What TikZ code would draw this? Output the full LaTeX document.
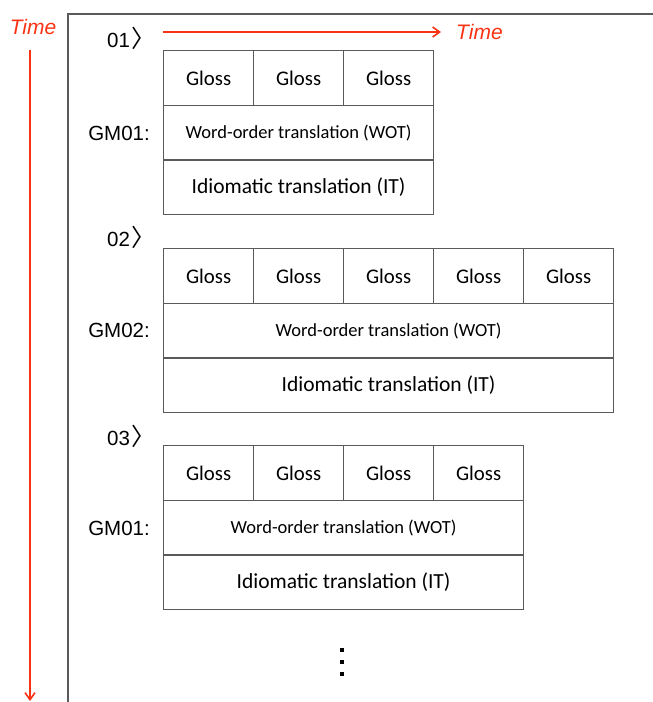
\documentclass[tikz,border=0pt]{standalone}
\usepackage{fontspec}
\setmainfont{Carlito}
\newfontfamily\helv{Liberation Sans}
\newfontfamily\cjk{Noto Sans CJK JP}
\usetikzlibrary{arrows.meta}
\definecolor{tred}{RGB}{250,50,20}
\definecolor{lgray}{RGB}{90,90,90}
\tikzset{
  cell/.style={draw=lgray,line width=1.2pt,inner sep=0pt,minimum height=55pt,anchor=north west},
  gloss/.style={cell,minimum width=90pt,font=\fontsize{20.8}{20.8}\selectfont},
  wot/.style={cell,font=\fontsize{18.5}{18.5}\selectfont},
  itr/.style={cell,font=\fontsize{21.5}{21.5}\selectfont},
  lbl/.style={font=\helv\fontsize{20.5}{20.5}\selectfont,anchor=east,inner sep=0pt},
  timelbl/.style={font=\helv\itshape\fontsize{21}{21}\selectfont,text=tred,inner sep=0pt},
  timearrow/.style={draw=tred,line width=1.6pt,-{Straight Barb[length=7pt,width=10pt,line width=1.6pt]}},
}
\newcommand{\chev}{\hspace{1pt}{\cjk\fontsize{24}{24}\selectfont 〉}\hspace{-12pt}}
\begin{document}
\begin{tikzpicture}[x=1pt,y=-1pt]
\useasboundingbox (0,0) rectangle (653,702);
% frame
\draw[lgray,line width=1.4pt] (68,702) -- (68,14) -- (653,14);
% time axes
\node[timelbl] (tv) at (33,27) {Time};
\coordinate (tvs) at (30,50);
\coordinate (tve) at (30,701);
\draw[timearrow] (tvs) -- (tve);
\coordinate (ths) at (163,32);
\coordinate (the) at (441,32);
\draw[timearrow] (ths) -- (the);
\node[timelbl,anchor=west] (th) at (456,32) {Time};
% block 1
\node[lbl,anchor=west] (s1) at (107,38) {01\chev};
\node[lbl] (g1) at (150,133) {GM01:};
\foreach \i in {0,1,2} {
  \node[gloss] (a\i) at ({163+90*\i},50) {Gloss};
}
\node[wot,minimum width=270pt] (aw) at (163,104.5) {Word-order translation (WOT)};
\node[itr,minimum width=270pt] (ai) at (163,159) {Idiomatic translation (IT)};
% block 2
\node[lbl,anchor=west] (s2) at (107,237) {02\chev};
\node[lbl] (g2) at (150,330) {GM02:};
\foreach \i in {0,...,4} {
  \node[gloss] (b\i) at ({163+90*\i},248) {Gloss};
}
\node[wot,minimum width=450pt] (bw) at (163,302.5) {Word-order translation (WOT)};
\node[itr,minimum width=450pt] (bi) at (163,357) {Idiomatic translation (IT)};
% block 3
\node[lbl,anchor=west] (s3) at (107,436) {03\chev};
\node[lbl] (g3) at (150,528) {GM01:};
\foreach \i in {0,...,3} {
  \node[gloss] (c\i) at ({163+90*\i},445) {Gloss};
}
\node[wot,minimum width=360pt] (cw) at (163,499.5) {Word-order translation (WOT)};
\node[itr,minimum width=360pt] (ci) at (163,554) {Idiomatic translation (IT)};
% dots
\foreach \y in {650,662,674} {
  \fill (340,\y-2) rectangle (344,\y+2);
}
\end{tikzpicture}
\end{document}
